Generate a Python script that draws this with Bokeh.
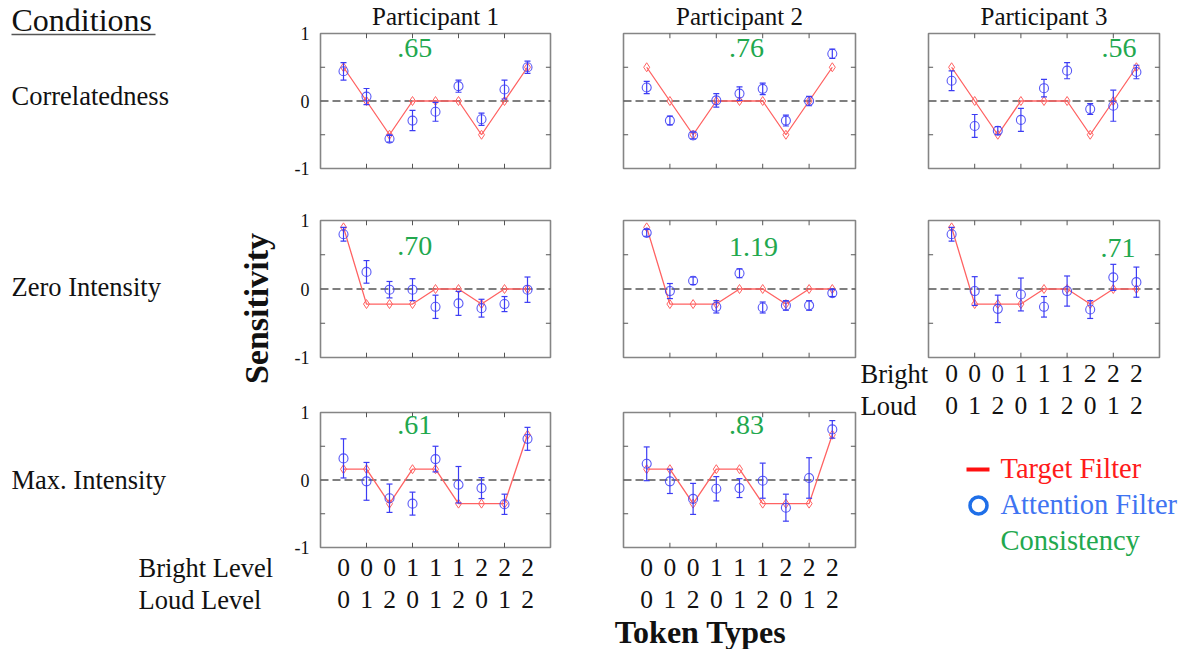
import math

from bokeh.core.properties import value
from bokeh.embed import file_html
from bokeh.models import Range1d
from bokeh.plotting import figure
from bokeh.resources import INLINE

# ---------------------------------------------------------------- data
conditions = ["Correlatedness", "Zero Intensity", "Max. Intensity"]
participants = ["Participant 1", "Participant 2", "Participant 3"]

token_x = [1, 2, 3, 4, 5, 6, 7, 8, 9]
bright_levels = ["0", "0", "0", "1", "1", "1", "2", "2", "2"]
loud_levels = ["0", "1", "2", "0", "1", "2", "0", "1", "2"]

# target filter weights per condition
target_correlatedness = [0.5, 0.0, -0.5, 0.0, 0.0, 0.0, -0.5, 0.0, 0.5]
target_zero_intensity = [0.9, -0.22, -0.22, -0.22, 0.0, 0.0, -0.22, 0.0, 0.0]
target_max_intensity = [0.16, 0.16, -0.35, 0.16, 0.16, -0.35, -0.35, -0.35, 0.67]

# estimated attention filters (mean, error half-width)
corr_p1_mean = [0.44, 0.065, -0.56, -0.29, -0.16, 0.22, -0.27, 0.17, 0.50]
corr_p1_err = [0.13, 0.12, 0.05, 0.15, 0.14, 0.09, 0.09, 0.14, 0.09]
corr_p2_mean = [0.20, -0.29, -0.51, 0.01, 0.11, 0.18, -0.29, 0.00, 0.70]
corr_p2_err = [0.09, 0.065, 0.05, 0.10, 0.10, 0.085, 0.08, 0.07, 0.07]
corr_p3_mean = [0.30, -0.37, -0.44, -0.28, 0.19, 0.45, -0.12, -0.07, 0.43]
corr_p3_err = [0.145, 0.17, 0.06, 0.17, 0.13, 0.12, 0.08, 0.23, 0.10]

zero_p1_mean = [0.80, 0.25, -0.01, -0.01, -0.26, -0.21, -0.28, -0.22, -0.01]
zero_p1_err = [0.10, 0.165, 0.12, 0.16, 0.17, 0.175, 0.13, 0.11, 0.185]
zero_p2_mean = [0.82, -0.03, 0.12, -0.26, 0.23, -0.27, -0.24, -0.24, -0.06]
zero_p2_err = [0.05, 0.11, 0.055, 0.09, 0.065, 0.08, 0.07, 0.07, 0.05]
zero_p3_mean = [0.80, -0.03, -0.29, -0.08, -0.26, -0.03, -0.30, 0.17, 0.10]
zero_p3_err = [0.10, 0.21, 0.20, 0.24, 0.15, 0.22, 0.13, 0.19, 0.22]

max_p1_mean = [0.32, -0.02, -0.27, -0.35, 0.31, -0.07, -0.12, -0.36, 0.61]
max_p1_err = [0.29, 0.28, 0.21, 0.17, 0.19, 0.27, 0.155, 0.15, 0.17]
max_p2_mean = [0.24, -0.02, -0.28, -0.13, -0.12, -0.01, -0.41, 0.03, 0.75]
max_p2_err = [0.25, 0.18, 0.23, 0.18, 0.14, 0.26, 0.20, 0.30, 0.13]

consistency_corr = [".65", ".76", ".56"]
consistency_zero = [".70", "1.19", ".71"]
consistency_max = [".61", ".83"]

y_tick_labels = ["1", "0", "-1"]
y_tick_values = [1, 0, -1]

# ---------------------------------------------------------------- styles
SERIF = value("Liberation Serif")
FRAME = "#858585"
TICK = "#555555"
RED = "#ff6262"
BLUE = "#3c3cf4"
GREEN = "#22a84e"

W, H = 1187, 649
col_edges = [(320, 550), (623, 855), (928, 1159)]
row_edges = [(33, 168), (220, 357), (412, 547)]

p = figure(width=W, height=H, x_range=Range1d(0, W), y_range=Range1d(H, 0),
           x_axis_location=None, y_axis_location=None,
           toolbar_location=None, output_backend="svg", min_border=0)
p.grid.visible = False
p.outline_line_color = None
p.background_fill_color = "white"


def draw_panel(r, c, target, mean, err, cons, cons_xy, ylabels=False,
               xlabel_offsets=None):
    (x0, x1), (y0, y1) = col_edges[c], row_edges[r]
    sp = p.subplot(x_source=Range1d(0, 10), y_source=Range1d(-1, 1),
                   x_target=Range1d(x0, x1), y_target=Range1d(y1, y0))

    # frame and inward ticks
    sp.quad(left=[0], right=[10], bottom=[-1], top=[1], fill_color=None,
            line_color=FRAME, line_width=1.6)
    xt = [2, 4, 6, 8]
    sp.segment(x0=xt, y0=[-1] * 4, x1=xt, y1=[-0.93] * 4, line_color=TICK, line_width=1)
    sp.segment(x0=xt, y0=[1] * 4, x1=xt, y1=[0.93] * 4, line_color=TICK, line_width=1)
    yt = [-0.5, 0.5]
    sp.segment(x0=[0, 0], y0=yt, x1=[0.2, 0.2], y1=yt, line_color=TICK, line_width=1)
    sp.segment(x0=[10, 10], y0=yt, x1=[9.8, 9.8], y1=yt, line_color=TICK, line_width=1)

    # zero reference
    sp.segment(x0=[0], y0=[0], x1=[10], y1=[0], line_color="#555555",
               line_width=1.5, line_dash="8 4")

    # target filter
    sp.line(token_x, target, line_color=RED, line_width=1.3)
    sp.scatter(token_x, target, marker="diamond", size=9, fill_color=None,
               line_color=RED, line_width=1)

    # attention filter with error bars
    lo = [m - e for m, e in zip(mean, err)]
    hi = [m + e for m, e in zip(mean, err)]
    sp.segment(x0=token_x, y0=lo, x1=token_x, y1=hi, line_color=BLUE, line_width=1.2)
    sp.scatter(token_x, lo, marker="dash", size=6, line_color=BLUE, line_width=1.2)
    sp.scatter(token_x, hi, marker="dash", size=6, line_color=BLUE, line_width=1.2)
    sp.scatter(token_x, mean, marker="circle", size=9, fill_color=None,
               line_color=BLUE, line_width=1.1, line_alpha=0.85)

    # consistency value
    sp.text(x=[cons_xy[0]], y=[cons_xy[1]], text=[cons], text_font=SERIF,
            text_font_size="28px", text_color=GREEN, text_align="center",
            text_baseline="middle")

    if ylabels:
        sp.text(x=[0, 0, 0], y=y_tick_values, text=y_tick_labels, x_offset=-11,
                text_font=SERIF, text_font_size="18px", text_color="#111111",
                text_align="right", text_baseline="middle")

    if xlabel_offsets:
        for labels, off in zip([bright_levels, loud_levels], xlabel_offsets):
            sp.text(x=token_x, y=[-1] * 9, text=labels, y_offset=off,
                    text_font=SERIF, text_font_size="25.5px", text_color="#111111",
                    text_align="center", text_baseline="middle")


draw_panel(0, 0, target_correlatedness, corr_p1_mean, corr_p1_err,
           consistency_corr[0], (4.1, 0.78), ylabels=True)
draw_panel(0, 1, target_correlatedness, corr_p2_mean, corr_p2_err,
           consistency_corr[1], (5.3, 0.78))
draw_panel(0, 2, target_correlatedness, corr_p3_mean, corr_p3_err,
           consistency_corr[2], (8.25, 0.78))

draw_panel(1, 0, target_zero_intensity, zero_p1_mean, zero_p1_err,
           consistency_zero[0], (4.1, 0.63), ylabels=True)
draw_panel(1, 1, target_zero_intensity, zero_p2_mean, zero_p2_err,
           consistency_zero[1], (5.6, 0.62))
draw_panel(1, 2, target_zero_intensity, zero_p3_mean, zero_p3_err,
           consistency_zero[2], (8.2, 0.60), xlabel_offsets=(16, 48))

draw_panel(2, 0, target_max_intensity, max_p1_mean, max_p1_err,
           consistency_max[0], (4.1, 0.82), ylabels=True, xlabel_offsets=(20, 52))
draw_panel(2, 1, target_max_intensity, max_p2_mean, max_p2_err,
           consistency_max[1], (5.3, 0.82), xlabel_offsets=(20, 52))

# ---------------------------------------------------------------- page text
def page_text(x, y, s, size="25px", color="#111111", align="left", style="normal",
              angle=0.0):
    p.text(x=[x], y=[y], text=[s], text_font=SERIF, text_font_size=size,
           text_color=color, text_align=align, text_baseline="middle",
           text_font_style=style, angle=angle)


page_text(11, 19, "Conditions", size="32px")
p.segment(x0=[11], y0=[34], x1=[155], y1=[34], line_color="#555555", line_width=1.5)

for label, y in zip(conditions, [95, 286, 479]):
    page_text(11, y, label, size="26.5px")

for name, (x0, x1) in zip(participants, col_edges):
    page_text((x0 + x1) / 2, 16, name, align="center")

page_text(256, 308, "Sensitivity", size="34px", style="bold", align="center",
          angle=math.pi / 2)
page_text(700, 631, "Token Types", size="32px", style="bold", align="center")

page_text(138, 567, "Bright Level", size="26.5px")
page_text(138, 599, "Loud Level", size="26.5px")
page_text(860, 373, "Bright", size="26.5px")
page_text(860, 405, "Loud", size="26.5px")

# legend
p.segment(x0=[966], y0=[469], x1=[989], y1=[469], line_color="#ff1010", line_width=4)
p.scatter([978], [505], marker="circle", size=17, fill_color=None,
          line_color="#1f6fe8", line_width=3.5)
page_text(1000, 468, "Target Filter", size="28.5px", color="#ff1a1a")
page_text(1000, 504, "Attention Filter", size="28.5px", color="#3f74f2")
page_text(1000, 540, "Consistency", size="28.5px", color="#22a84e")

open("out.html", "w").write(file_html(p, INLINE))
